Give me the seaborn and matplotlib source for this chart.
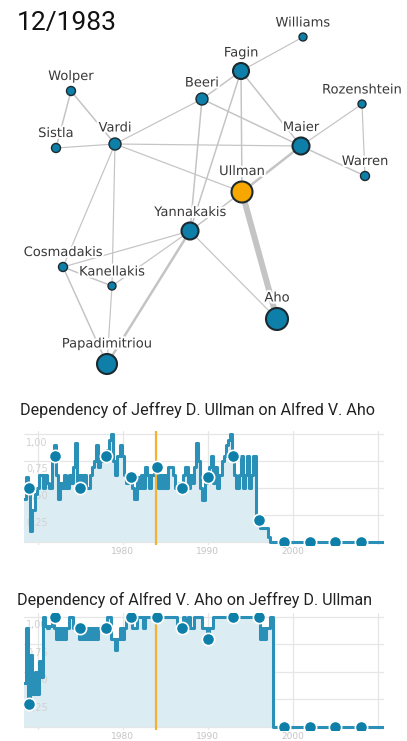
import numpy as np
import seaborn as sns
import matplotlib.pyplot as plt
import matplotlib.patheffects as pe

DATE_LABEL = "12/1983"
CURRENT_YEAR = 1983.92

# co-author network (layout in pixel space of the top panel)
NAMES = ["Williams", "Fagin", "Wolper", "Beeri", "Rozenshtein", "Sistla", "Vardi", "Maier",
         "Warren", "Ullman", "Yannakakis", "Cosmadakis", "Kanellakis", "Aho", "Papadimitriou"]
NODE_X = [303, 241, 71, 202, 362, 56, 115, 301, 365, 242, 190, 63, 112, 277, 107]
NODE_Y = [37, 71, 91, 99, 104, 148, 144, 146, 176, 192, 231, 267, 286, 319, 364]
NODE_R = [4, 8, 4.5, 6, 4, 4.5, 6, 8.5, 4.5, 10.5, 8.5, 4.5, 4, 11, 10]
FOCUS = "Ullman"

EDGES = [
    ("Williams", "Fagin", 1.2), ("Fagin", "Beeri", 1.5), ("Fagin", "Maier", 1.5),
    ("Fagin", "Ullman", 1.5), ("Fagin", "Yannakakis", 1.5), ("Beeri", "Vardi", 1.2),
    ("Beeri", "Maier", 1.5), ("Beeri", "Yannakakis", 1.5), ("Wolper", "Sistla", 1.5),
    ("Wolper", "Vardi", 1.5), ("Sistla", "Vardi", 1.2), ("Vardi", "Maier", 1.2),
    ("Vardi", "Ullman", 1.2), ("Vardi", "Cosmadakis", 1.2), ("Vardi", "Kanellakis", 1.2),
    ("Rozenshtein", "Maier", 1.2), ("Rozenshtein", "Warren", 1.2), ("Maier", "Warren", 1.5),
    ("Maier", "Ullman", 2.5), ("Ullman", "Aho", 6.0), ("Ullman", "Yannakakis", 1.5),
    ("Yannakakis", "Cosmadakis", 1.2), ("Yannakakis", "Kanellakis", 1.2),
    ("Yannakakis", "Papadimitriou", 2.5), ("Yannakakis", "Aho", 1.2),
    ("Cosmadakis", "Kanellakis", 1.5), ("Cosmadakis", "Papadimitriou", 1.5),
    ("Kanellakis", "Papadimitriou", 1.2),
]

# dependency series, quarterly from START_YEAR
START_YEAR = 1968.4
STEP = 0.25
END_YEAR = 2010.76
TITLE_1 = "Dependency of Jeffrey D. Ullman on Alfred V. Aho"
DEP_1 = [
    0.40, 0.60, 0.50, 0.10, 0.30, 0.45, 0.50, 0.62, 0.62, 0.50,
    0.62, 0.55, 0.50, 0.80, 0.90, 0.62, 0.40, 0.55, 0.50, 0.62,
    0.50, 0.62, 0.55, 0.70, 0.92, 0.50, 0.62, 0.50, 0.62, 0.50,
    0.50, 0.62, 0.70, 0.75, 0.90, 0.70, 0.75, 0.80, 0.80, 0.85,
    0.95, 1.00, 0.75, 0.62, 0.80, 0.90, 0.80, 0.62, 0.55, 0.62,
    0.60, 0.50, 0.40, 0.60, 0.50, 0.62, 0.50, 0.70, 0.62, 0.50,
    0.62, 0.70, 0.70, 0.50, 0.62, 0.50, 0.62, 0.50, 0.70, 0.70,
    0.62, 0.50, 0.50, 0.55, 0.50, 0.62, 0.70, 0.50, 0.62, 0.55,
    0.70, 0.92, 0.75, 0.50, 0.39, 0.55, 0.60, 0.70, 0.80, 0.55,
    0.70, 0.50, 0.62, 0.75, 0.80, 0.90, 0.95, 1.00, 0.80, 0.62,
    0.50, 0.62, 0.80, 0.50, 0.62, 0.80, 0.50, 0.62, 0.80, 0.25,
    0.20, 0.13, 0.13, 0.13, 0.13, 0.05, 0.00,
]
MARK_YEARS_1 = [1969, 1972, 1975, 1978, 1981, 1984, 1987, 1990, 1993, 1996, 1999, 2002, 2005, 2008]
MARK_VALS_1 = [0.50, 0.80, 0.50, 0.80, 0.60, 0.70, 0.50, 0.60, 0.80, 0.20, 0.0, 0.0, 0.0, 0.0]

TITLE_2 = "Dependency of Alfred V. Aho on Jeffrey D. Ullman"
DEP_2 = [
    0.40, 0.90, 0.25, 0.65, 0.30, 0.50, 0.30, 0.60, 0.45, 1.00,
    0.92, 0.90, 0.92, 1.00, 0.90, 0.80, 0.90, 0.80, 0.90, 0.80,
    0.90, 1.00, 1.00, 0.90, 0.90, 0.90, 0.80, 0.90, 0.80, 0.90,
    0.80, 0.90, 0.80, 0.90, 0.80, 0.90, 0.90, 0.90, 0.90, 1.00,
    1.00, 0.80, 0.80, 0.70, 0.80, 0.90, 0.80, 0.90, 1.00, 1.00,
    1.00, 0.90, 0.90, 1.00, 1.00, 1.00, 0.90, 1.00, 1.00, 1.00,
    1.00, 1.00, 1.00, 1.00, 1.00, 1.00, 1.00, 1.00, 1.00, 1.00,
    1.00, 1.00, 0.90, 0.90, 0.90, 1.00, 0.90, 1.00, 0.90, 0.90,
    1.00, 1.00, 1.00, 1.00, 0.90, 0.90, 0.80, 0.90, 0.90, 1.00,
    1.00, 1.00, 1.00, 1.00, 1.00, 1.00, 1.00, 1.00, 1.00, 1.00,
    1.00, 1.00, 1.00, 1.00, 1.00, 1.00, 1.00, 1.00, 1.00, 1.00,
    1.00, 0.80, 0.90, 0.80, 0.90, 0.90, 1.00, 0.00,
]
MARK_YEARS_2 = [1969, 1972, 1975, 1978, 1981, 1984, 1987, 1990, 1993, 1996, 1999, 2002, 2005, 2008]
MARK_VALS_2 = [0.21, 1.00, 0.90, 0.90, 1.00, 1.00, 0.90, 0.80, 1.00, 1.00, 0.0, 0.0, 0.0, 0.0]

X_TICKS = [1970, 1980, 1990, 2000, 2010]
X_LABELS = ["", "1980", "1990", "2000", ""]
Y_TICKS = [0.25, 0.5, 0.75, 1.0]
Y_LABELS = ["0,25", "0,50", "0,75", "1,00"]

BLUE = "#0e7fa8"
LINE = "#2a90b8"
FILL = "#dcecf3"
ORANGE = "#f7a700"
VLINE = "#f4b233"
W, H = 407, 741


def draw_network(ax):
    pos = {n: (x, y) for n, x, y in zip(NAMES, NODE_X, NODE_Y)}
    for a, b, w in EDGES:
        (x0, y0), (x1, y1) = pos[a], pos[b]
        ax.plot([x0, x1], [y0, y1], color="#c4c4c4", lw=w * 0.72, zorder=1,
                solid_capstyle="butt")
    sizes = [(2 * r * 0.72) ** 2 for r in NODE_R]
    roles = ["focus" if n == FOCUS else "other" for n in NAMES]
    lws = [1.5 if r >= 8 else 1.0 for r in NODE_R]
    sns.scatterplot(x=NODE_X, y=NODE_Y, hue=roles, palette={"focus": ORANGE, "other": BLUE},
                    s=sizes, edgecolor="#1c2a30", linewidth=lws, legend=False, ax=ax, zorder=3)
    for n, x, y, r in zip(NAMES, NODE_X, NODE_Y, NODE_R):
        ax.annotate(n, (x, y), xytext=(0, (r + 10) * 0.72), textcoords="offset points",
                    ha="center", va="center", fontsize=9.4, color="#383838", zorder=4,
                    path_effects=[pe.withStroke(linewidth=3, foreground="white")])
    ax.set_xlim(0, W)
    ax.set_ylim(385, 0)
    ax.axis("off")


def draw_dependency(ax, values, mark_years, mark_vals):
    years = START_YEAR + STEP * np.arange(len(values))
    xs = np.append(years, END_YEAR)
    ys = np.append(values, values[-1])
    ax.fill_between(xs, 0, ys, step="post", color=FILL, lw=0, zorder=1)
    sns.lineplot(x=xs, y=ys, drawstyle="steps-post", color=LINE, lw=2.2, ax=ax, zorder=3,
                 estimator=None, sort=False)
    ax.axvline(CURRENT_YEAR, color=VLINE, lw=1.6, zorder=4)
    sns.scatterplot(x=mark_years, y=mark_vals, color=BLUE, s=78, edgecolor="white",
                    linewidth=1.2, ax=ax, zorder=5, legend=False)
    ax.set_xlim(START_YEAR - 0.05, END_YEAR)
    ax.set_ylim(-0.03, 1.035)
    ax.set_xticks(X_TICKS)
    ax.set_xticklabels(X_LABELS)
    ax.set_yticks([0] + Y_TICKS)
    ax.set_yticklabels([])
    for v, lab in zip(Y_TICKS, Y_LABELS):
        ax.text(0.008, v - 0.03, lab, transform=ax.get_yaxis_transform(), ha="left", va="top",
                fontsize=7, color="#d2d2d2", zorder=2)
    ax.grid(True, color="#e6e6e6", lw=0.9)
    ax.set_axisbelow(True)
    ax.tick_params(length=0, labelsize=6.5, labelcolor="#c4c4c4", pad=1)
    for s in ax.spines.values():
        s.set_visible(False)
    ax.set_xlabel("")
    ax.set_ylabel("")


sns.set_style("white")
plt.rcParams["font.family"] = ["DejaVu Sans"]

fig = plt.figure(figsize=(W / 100, H / 100), dpi=100)
ax_net = fig.add_axes([0, 1 - 385 / H, 1, 385 / H])
draw_network(ax_net)

ax1 = fig.add_axes([23.5 / W, 1 - 545.2 / H, 360.5 / W, 114.7 / H])
draw_dependency(ax1, DEP_1, MARK_YEARS_1, MARK_VALS_1)
ax2 = fig.add_axes([23.5 / W, 1 - 730.3 / H, 360.5 / W, 117.2 / H])
draw_dependency(ax2, DEP_2, MARK_YEARS_2, MARK_VALS_2)

fig.text(17 / W, 1 - 30 / H, DATE_LABEL, fontsize=19, family="Roboto", color="#111",
         va="baseline", ha="left")
fig.text(20 / W, 1 - 415 / H, TITLE_1, fontsize=11.6, family="Roboto", color="#222",
         va="baseline", ha="left")
fig.text(17 / W, 1 - 605 / H, TITLE_2, fontsize=11.6, family="Roboto", color="#222",
         va="baseline", ha="left")

fig.savefig("out.png", dpi=100)
